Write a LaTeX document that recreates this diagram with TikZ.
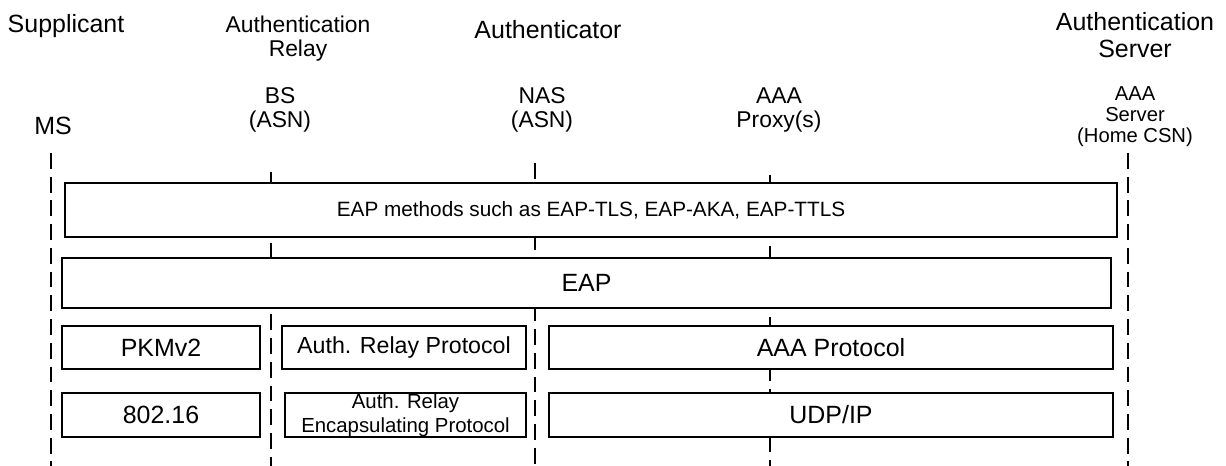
\documentclass[tikz,border=0pt]{standalone}
\usepackage{fontspec}
\setmainfont{Liberation Sans}
\usepackage{tikz}
\newcommand\fsize[2]{\fontsize{#1}{#2}\selectfont}
\tikzset{
  lifeline/.style={line width=1pt,dash pattern=on 9pt off 4.5pt},
  layer/.style={draw,fill=white,line width=0.9pt,inner sep=0pt,align=center},
  role/.style={anchor=base,inner sep=0pt,align=center,font=\fsize{14.2}{15.9}},
  entity/.style={anchor=base,inner sep=0pt,align=center,font=\fsize{13}{14.2}}
}

\begin{document}
\begin{tikzpicture}[x=0.2mm,y=-0.2mm]
  \useasboundingbox (0,0) rectangle (1226,466);
  % lifelines first, the layers are painted over them
  \foreach \n/\x/\t in {ms/51/153,bs/271/172,nas/535/163,proxy/770/175,server/1128/153}{
    \coordinate (\n-top) at (\x,\t);
    \coordinate (\n-bot) at (\x,466);
    \draw[lifeline] (\n-top) -- (\n-bot);}

  % multi-line labels sit on the baseline of their last line
  \node[role] (supplicant) at (66,33) {Supplicant};
  \node[role,font=\fsize{13}{14.2}] (relay) at (298,57) {Authentication\\Relay};
  \node[role] (authenticator) at (548,39) {Authenticator};
  \node[role] (authserver) at (1135,58) {Authentication\\Server};

  \node[role] (ms) at (53,135) {MS};
  \node[entity] (bs) at (280,128) {BS\\(ASN)};
  \node[entity] (nas) at (542,128) {NAS\\(ASN)};
  \node[entity] (proxy) at (779,128) {AAA\\Proxy(s)};
  \node[entity,font=\fsize{11.5}{12.2}] (aaaserver) at (1135,143) {AAA\\Server\\(Home CSN)};

  \node[layer,minimum width=210.4mm,minimum height=10.8mm,font=\fsize{11.8}{14}] (methods) at (591,210) {EAP methods such as EAP-TLS, EAP-AKA, EAP-TTLS};
  \node[layer,minimum width=209.8mm,minimum height=10mm,font=\fsize{14.2}{17}] (eap) at (586.5,283) {EAP};

  \node[layer,minimum width=39.6mm,minimum height=8.6mm,font=\fsize{14.2}{17}] (pkm) at (161,347.5) {PKMv2};
  \node[layer,minimum width=48.8mm,minimum height=8.6mm,font=\fsize{13.2}{15}] (relayproto) at (404,347.5) {Auth. Relay Protocol};
  \node[layer,minimum width=112.8mm,minimum height=8.6mm,font=\fsize{14.2}{17}] (aaaproto) at (831,347.5) {AAA Protocol};

  \node[layer,minimum width=39.6mm,minimum height=8.8mm,font=\fsize{14.2}{17}] (phy) at (161,415) {802.16};
  \node[layer,minimum width=48.2mm,minimum height=8.8mm,font=\fsize{11.6}{13.6}] (relayencap) at (405.5,415) {Auth. Relay\\Encapsulating Protocol};
  \node[layer,minimum width=112.8mm,minimum height=8.8mm,font=\fsize{14.2}{17}] (udpip) at (831,415) {UDP/IP};
\end{tikzpicture}
\end{document}
